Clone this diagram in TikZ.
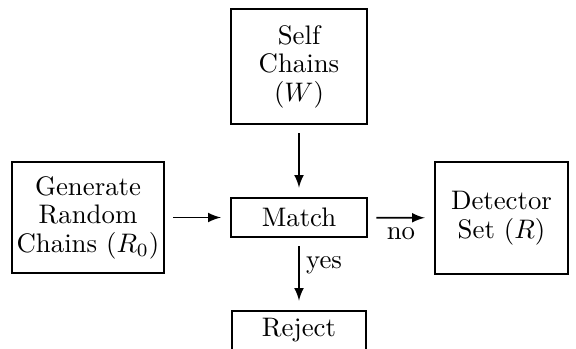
\documentclass[tikz,border=0pt]{standalone}
\usepackage{amsmath}
\usepackage{tikz}
\usetikzlibrary{arrows}

\begin{document}
\begin{tikzpicture}[x=0.3731pt, y=-0.3731pt,
    block/.style={draw, line width=1pt, align=center, inner sep=0pt,
        font={\fontsize{10}{10.6}\selectfont}},
    flow/.style={-latex, line width=0.65pt, shorten >=3.3pt, shorten <=3pt}]
    \useasboundingbox (0,0) rectangle (576,349);

    % Blocks
    \node[block, minimum width=50.7pt, minimum height=42.9pt] (self) at (299,66.5) {Self\\Chains\\($W$)};
    \node[block, minimum width=56.7pt, minimum height=41.4pt] (gen) at (88,217.5) {Generate\\Random\\Chains ($R_0$)};
    \node[block, minimum width=50.7pt, minimum height=14.6pt] (match) at (299,217.5) {Match};
    \node[block, minimum width=49.6pt, minimum height=41.8pt] (det) at (501.5,218) {Detector\\Set ($R$)};
    \node[block, minimum width=50pt, minimum height=14.6pt] (reject) at (299,330.5) {Reject};

    % Arrows
    \draw[flow] (self) -- (match);
    \draw[flow] (gen) -- (match);
    \draw[flow] (match) -- node[below] {no} (det);
    \draw[flow] (match) -- node[pos=0.38, right, xshift=-1pt] {yes} (reject);
\end{tikzpicture}
\end{document}
